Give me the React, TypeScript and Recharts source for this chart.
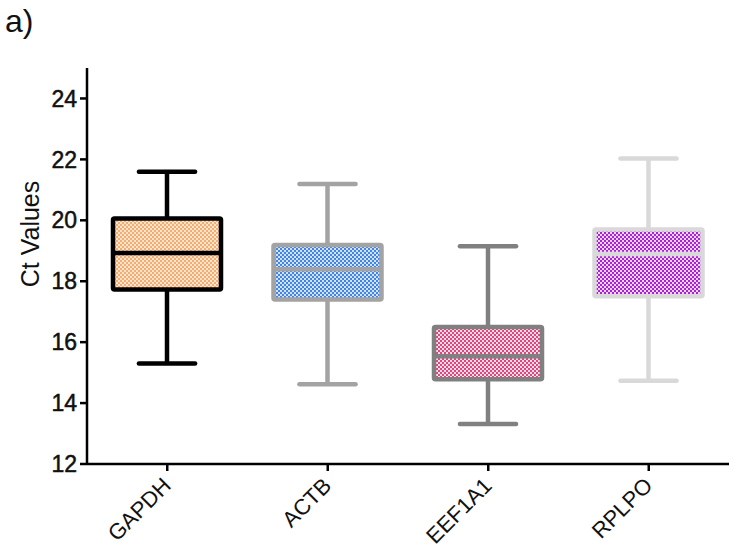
import React from "react";
import { ComposedChart, Bar, XAxis, YAxis } from "recharts";

// values
const genes = ["GAPDH", "ACTB", "EEF1A1", "RPLPO"];
const minValues = [15.3, 14.62, 13.31, 14.73];
const q1Values = [17.73, 17.4, 14.78, 17.51];
const medianValues = [18.93, 18.39, 15.54, 18.89];
const q3Values = [20.06, 19.19, 16.5, 19.7];
const maxValues = [21.59, 21.19, 19.15, 22.03];
const yTicks = [12, 14, 16, 18, 20, 22, 24];

const boxStyles = [
    { stroke: "#000000", fill: "url(#pat-gapdh)" },
    { stroke: "#a3a3a3", fill: "url(#pat-actb)" },
    { stroke: "#808080", fill: "url(#pat-eef)" },
    { stroke: "#d9d9d9", fill: "url(#pat-rplpo)" },
];

const chartData = genes.map((g, i) => ({
    name: g,
    range: [minValues[i], maxValues[i]],
    min: minValues[i],
    q1: q1Values[i],
    median: medianValues[i],
    q3: q3Values[i],
    max: maxValues[i],
    idx: i,
}));

const FONT = "Arial, 'Liberation Sans', sans-serif";

const BoxShape = (props: any) => {
    const { x, y, width, height, payload } = props;
    if (height == null || !payload) return null;
    const { min, max, q1, q3, median, idx } = payload;
    const k = height / (max - min);
    const py = (v: number) => y + (max - v) * k;
    const cx = x + width / 2;
    const cap = width * 0.26;
    const st = boxStyles[idx];
    const sw = 4.5;
    return (
        <g>
            <line x1={cx} x2={cx} y1={py(max)} y2={py(q3)} stroke={st.stroke} strokeWidth={sw} />
            <line x1={cx} x2={cx} y1={py(q1)} y2={py(min)} stroke={st.stroke} strokeWidth={sw} />
            <line x1={cx - cap} x2={cx + cap} y1={py(max)} y2={py(max)} stroke={st.stroke} strokeWidth={sw} strokeLinecap="round" />
            <line x1={cx - cap} x2={cx + cap} y1={py(min)} y2={py(min)} stroke={st.stroke} strokeWidth={sw} strokeLinecap="round" />
            <rect
                x={x}
                y={py(q3)}
                width={width}
                height={py(q1) - py(q3)}
                fill={st.fill}
                stroke={st.stroke}
                strokeWidth={sw}
                rx={1.5}
            />
            <line x1={x} x2={x + width} y1={py(median)} y2={py(median)} stroke={st.stroke} strokeWidth={sw} />
        </g>
    );
};

const XTick = (props: any) => {
    const { x, y, payload } = props;
    const ax = x + 5;
    const ay = y + 14;
    return (
        <text
            x={ax}
            y={ay}
            transform={`rotate(-45, ${ax}, ${ay})`}
            textAnchor="end"
            fontSize={22}
            fontFamily={FONT}
            fill="#111"
        >
            {payload.value}
        </text>
    );
};

const pattern = (id: string, base: string, dot: string) => (
    <pattern id={id} width={4} height={4} patternUnits="userSpaceOnUse">
        <rect width={4} height={4} fill={base} />
        <rect x={0} y={0} width={2} height={2} fill={dot} />
        <rect x={2} y={2} width={2} height={2} fill={dot} />
    </pattern>
);

export default function App() {
    return (
        <div style={{ position: "absolute", left: 0, top: 0, width: 735, height: 556, background: "#fff" }}>
            <svg width={0} height={0} style={{ position: "absolute" }}>
                <defs>
                    {pattern("pat-gapdh", "#fde4cc", "#f3ad72")}
                    {pattern("pat-actb", "#d3e3fb", "#3f84e6")}
                    {pattern("pat-eef", "#fbdde8", "#e2457d")}
                    {pattern("pat-rplpo", "#f2d4f8", "#a822d8")}
                </defs>
            </svg>
            <ComposedChart
                width={735}
                height={556}
                data={chartData}
                margin={{ top: 68, right: 6, bottom: 62, left: 0 }}
            >
                <XAxis
                    dataKey="name"
                    height={30}
                    axisLine={{ stroke: "#000", strokeWidth: 2.5 }}
                    tickLine={{ stroke: "#000", strokeWidth: 2.5 }}
                    tickSize={7}
                    tick={<XTick />}
                    interval={0}
                />
                <YAxis
                    type="number"
                    domain={[12, 25]}
                    ticks={yTicks}
                    width={87}
                    axisLine={{ stroke: "#000", strokeWidth: 2.5 }}
                    tickLine={{ stroke: "#000", strokeWidth: 2.5 }}
                    tickSize={7}
                    tickMargin={3}
                    tick={{ fontSize: 23, fontFamily: FONT, fill: "#111", stroke: "#111", strokeWidth: 0.5 }}
                    allowDataOverflow
                />
                <Bar dataKey="range" barSize={108} shape={<BoxShape />} isAnimationActive={false} />
            </ComposedChart>
            <div
                style={{
                    position: "absolute",
                    left: 5,
                    top: 2,
                    fontSize: 32,
                    lineHeight: "38px",
                    fontFamily: FONT,
                    color: "#111",
                }}
            >
                a)
            </div>
            <div
                style={{
                    position: "absolute",
                    left: 30,
                    top: 234,
                    transform: "translate(-50%, -50%) rotate(-90deg)",
                    fontSize: 25,
                    fontFamily: FONT,
                    color: "#111",
                    whiteSpace: "nowrap",
                }}
            >
                Ct Values
            </div>
        </div>
    );
}
